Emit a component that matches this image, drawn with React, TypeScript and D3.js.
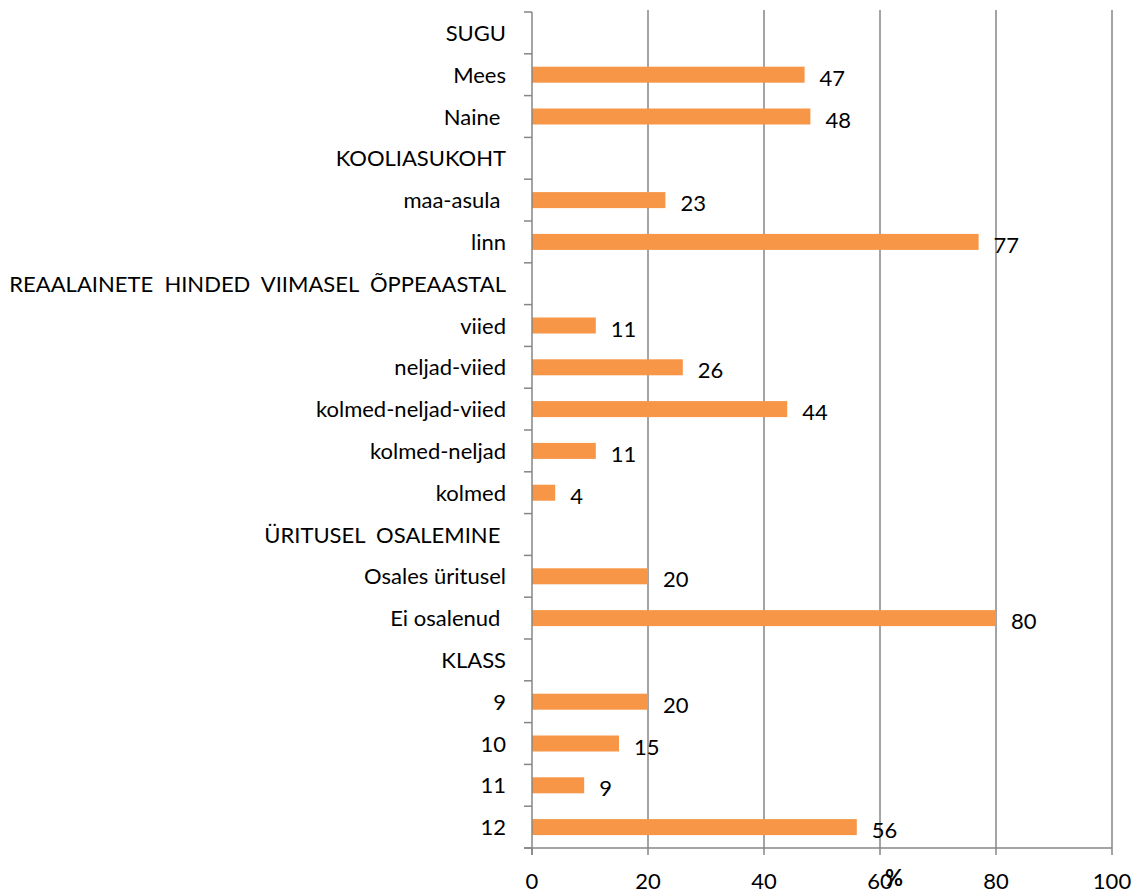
import React from 'react';
import * as d3 from 'd3';

// category rows top to bottom; headers carry no value
const categories = [
  'SUGU', 'Mees', 'Naine ', 'KOOLIASUKOHT', 'maa-asula ', 'linn',
  'REAALAINETE  HINDED  VIIMASEL  ÕPPEAASTAL', 'viied', 'neljad-viied',
  'kolmed-neljad-viied', 'kolmed-neljad', 'kolmed', 'ÜRITUSEL  OSALEMINE ',
  'Osales üritusel', 'Ei osalenud ', 'KLASS', '9', '10', '11', '12',
];
const values: (number | null)[] = [
  null, 47, 48, null, 23, 77, null, 11, 26, 44, 11, 4, null, 20, 80, null, 20, 15, 9, 56,
];
const xTicks = [0, 20, 40, 60, 80, 100];

const W = 1139, H = 895;
const margin = { top: 12, right: 27, bottom: 47, left: 532 };
const FONT = 'Lato, "Open Sans", sans-serif';

export default function App() {
  const x = d3.scaleLinear().domain([0, 100]).range([margin.left, W - margin.right]);
  const y = d3.scaleBand<number>()
    .domain(categories.map((_, i) => i))
    .range([margin.top, H - margin.bottom]);
  const bw = y.bandwidth();
  const barH = 16;
  const axisY = H - margin.bottom;

  return (
    <svg width={W} height={H} style={{ position: 'absolute', left: 0, top: 0, background: '#fff' }}
      fontFamily={FONT}>
      {/* vertical gridlines */}
      {xTicks.slice(1).map(t => (
        <line key={'g' + t} x1={x(t)} x2={x(t)} y1={margin.top - 2} y2={axisY}
          stroke="#868686" strokeWidth={1.5} />
      ))}
      {/* bars */}
      {values.map((v, i) => v == null ? null : (
        <rect key={'b' + i} x={x(0)} y={(y(i) ?? 0) + bw / 2 - barH / 2}
          width={x(v) - x(0)} height={barH} fill="#F79646" />
      ))}
      {/* value labels */}
      {values.map((v, i) => v == null ? null : (
        <text key={'v' + i} x={x(v) + 15} y={(y(i) ?? 0) + bw / 2 + 11}
          fontSize={22} fill="#000">{v}</text>
      ))}
      {/* y axis */}
      <line x1={x(0)} x2={x(0)} y1={margin.top} y2={axisY + 7} stroke="#868686" strokeWidth={1.5} />
      {d3.range(categories.length + 1).map(i => {
        const yy = i < categories.length ? (y(i) ?? 0) : axisY;
        return <line key={'yt' + i} x1={x(0) - 8} x2={x(0)} y1={yy} y2={yy} stroke="#868686" strokeWidth={1.5} />;
      })}
      {categories.map((c, i) => (
        <text key={'c' + i} x={506} y={(y(i) ?? 0) + bw / 2 + 8} textAnchor="end"
          fontSize={22} fill="#000" style={{ whiteSpace: 'pre' }}>{c}</text>
      ))}
      {/* x axis */}
      <line x1={x(0) - 8} x2={x(100)} y1={axisY} y2={axisY} stroke="#868686" strokeWidth={1.5} />
      {xTicks.map(t => (
        <g key={'xt' + t}>
          <line x1={x(t)} x2={x(t)} y1={axisY} y2={axisY + 7} stroke="#868686" strokeWidth={1.5} />
          <text x={x(t)} y={889} textAnchor="middle" fontSize={22} fill="#000">{t}</text>
        </g>
      ))}
      <text x={894} y={886} textAnchor="middle" fontSize={22} fontWeight="bold" fill="#000">%</text>
    </svg>
  );
}
